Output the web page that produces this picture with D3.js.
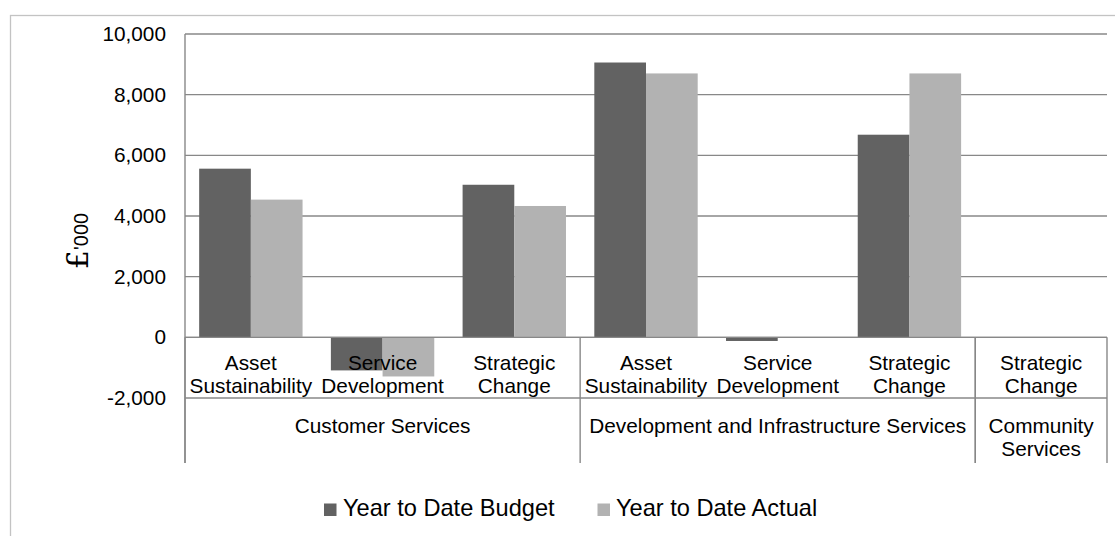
<!DOCTYPE html>
<html>
<head>
<meta charset="utf-8">
<script src="https://cdn.jsdelivr.net/npm/d3@7"></script>
<style>
  html, body { margin: 0; padding: 0; background: #fff; }
  svg { display: block; font-family: "Liberation Sans", Arial, sans-serif; }
</style>
</head>
<body>
<svg id="chart" width="1115" height="536"></svg>
<script>
// ---- data ----
const categories = ["Asset Sustainability", "Service Development", "Strategic Change",
                    "Asset Sustainability", "Service Development", "Strategic Change",
                    "Strategic Change"];
const categoryGroups = ["Customer Services", "Customer Services", "Customer Services",
                        "Development and Infrastructure Services", "Development and Infrastructure Services", "Development and Infrastructure Services",
                        "Community Services"];
const groups = ["Customer Services", "Development and Infrastructure Services", "Community Services"];
const budget = [5560, -1090, 5030, 9060, -120, 6680, 0];
const actual = [4540, -1290, 4330, 8700, 0, 8700, 0];
const seriesNames = ["Year to Date Budget", "Year to Date Actual"];
const yTicks = [-2000, 0, 2000, 4000, 6000, 8000, 10000];
const yTickLabels = ["-2,000", "0", "2,000", "4,000", "6,000", "8,000", "10,000"];

(function () {
// ---- layout ----
const svg = d3.select("#chart");
const colors = ["#626262", "#b2b2b2"];
const gridColor = "#888888";
const plotLeft = 185, plotRight = 1107, plotTop = 34, plotBottom = 398;
const labelBottom = 463;
const fs = 20.8;

// outer border
svg.append("rect").attr("x", 10.5).attr("y", 15.5).attr("width", 1112).attr("height", 540)
  .attr("fill", "none").attr("stroke", "#c3c3c3").attr("stroke-width", 1.3);

const y = d3.scaleLinear().domain([-2000, 10000]).range([plotBottom, plotTop]);
const x = d3.scaleBand().domain(d3.range(categories.length)).range([plotLeft, plotRight]).padding(0);
const xs = d3.scaleBand().domain([0, 1]).range([0, x.bandwidth()]).paddingInner(0).paddingOuter(0.274);

// gridlines
svg.append("g").selectAll("line").data(yTicks).join("line")
  .attr("x1", plotLeft).attr("x2", plotRight)
  .attr("y1", d => y(d)).attr("y2", d => y(d))
  .attr("stroke", gridColor).attr("stroke-width", 1.4);

// y axis
const yAxis = d3.axisLeft(y).tickValues(yTicks).tickSize(0).tickPadding(19)
  .tickFormat(d => yTickLabels[yTicks.indexOf(d)]);
const ya = svg.append("g").attr("transform", `translate(${plotLeft},0)`).call(yAxis);
ya.select(".domain").remove();
ya.selectAll("text").attr("font-size", fs).attr("fill", "#000")
  .attr("font-family", "Liberation Sans, Arial, sans-serif");

// left axis line
svg.append("line").attr("x1", plotLeft).attr("x2", plotLeft).attr("y1", plotTop).attr("y2", labelBottom)
  .attr("stroke", gridColor).attr("stroke-width", 1.4);

// bars
const seriesData = [budget, actual];
seriesData.forEach((vals, si) => {
  svg.append("g").selectAll("rect").data(vals).join("rect")
    .attr("x", (d, i) => x(i) + xs(si))
    .attr("width", xs.bandwidth())
    .attr("y", d => y(Math.max(0, d)))
    .attr("height", d => Math.abs(y(d) - y(0)))
    .attr("fill", colors[si]);
});

// zero line (category axis)
svg.append("line").attr("x1", plotLeft).attr("x2", plotRight).attr("y1", y(0)).attr("y2", y(0))
  .attr("stroke", gridColor).attr("stroke-width", 1.4);

// group separators
const groupBounds = [];
groups.forEach(g => {
  const idx = categoryGroups.map((c, i) => c === g ? i : -1).filter(i => i >= 0);
  groupBounds.push({ name: g, x0: x(idx[0]), x1: x(idx[idx.length - 1]) + x.bandwidth() });
});
const sepXs = [...new Set(groupBounds.flatMap(b => [b.x0, b.x1]))];
svg.append("g").selectAll("line").data(sepXs).join("line")
  .attr("x1", d => d).attr("x2", d => d).attr("y1", y(0)).attr("y2", labelBottom)
  .attr("stroke", gridColor).attr("stroke-width", 1.4);

// category labels (two lines)
function splitLabel(s) {
  const parts = s.split(" ");
  if (parts.length === 2) return parts;
  return [s];
}
const catG = svg.append("g").attr("font-size", fs).attr("fill", "#000").attr("text-anchor", "middle");
categories.forEach((c, i) => {
  const lines = splitLabel(c);
  const t = catG.append("text");
  lines.forEach((ln, k) => {
    t.append("tspan").attr("x", x(i) + x.bandwidth() / 2).attr("y", 370 + k * 23).text(ln);
  });
});

// group labels
const grpG = svg.append("g").attr("font-size", fs).attr("fill", "#000").attr("text-anchor", "middle");
groupBounds.forEach(b => {
  const cx = (b.x0 + b.x1) / 2;
  const lines = (b.x1 - b.x0) < 200 ? splitLabel(b.name) : [b.name];
  const t = grpG.append("text");
  lines.forEach((ln, k) => {
    t.append("tspan").attr("x", cx).attr("y", 433 + k * 23).text(ln);
  });
});

// y axis title
const yt = svg.append("text").attr("transform", "translate(88,241) rotate(-90)")
  .attr("text-anchor", "middle").attr("fill", "#000");
yt.append("tspan").attr("font-size", 30).attr("font-family", "DejaVu Serif, serif").text("£");
yt.append("tspan").attr("font-size", 20).text("'000");

// legend
const legendItems = [
  { name: seriesNames[0], color: colors[0], sx: 324, tx: 343 },
  { name: seriesNames[1], color: colors[1], sx: 597.5, tx: 616 }
];
const lg = svg.append("g");
legendItems.forEach(it => {
  lg.append("rect").attr("x", it.sx).attr("y", 503.5).attr("width", 12.5).attr("height", 12.5).attr("fill", it.color);
  lg.append("text").attr("x", it.tx).attr("y", 516).attr("font-size", 23.6).attr("fill", "#000").text(it.name);
});
})();
</script>
</body>
</html>
